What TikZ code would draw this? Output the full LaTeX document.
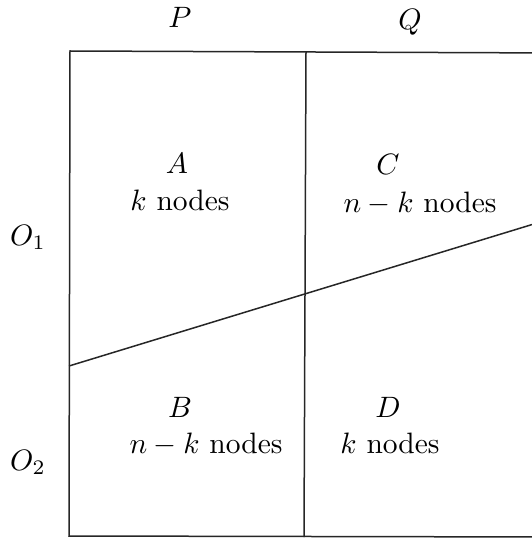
\documentclass[tikz,border=0pt]{standalone}
\usepackage{graphicx}
\newcommand{\bigtxt}[1]{\scalebox{2.95}{#1}}
\begin{document}
\begin{tikzpicture}[x=1pt,y=-1pt,
  lbl/.style={anchor=base,inner sep=0pt},
  edge/.style={line width=1.5pt,black!85}]
\useasboundingbox (0,0) rectangle (531,540);
\coordinate (tl) at (70,51);
\coordinate (bl) at (69,536);
\coordinate (tr) at (560,53);
\coordinate (br) at (560,537);
\coordinate (mt) at (306,52);
\coordinate (mb) at (304,537);
\coordinate (dl) at (69,366);
\coordinate (dr) at (560,216);
\draw[edge] (tr) -- (tl) -- (bl) -- (br);
\draw[edge] (mt) -- (mb);
\draw[edge] (dl) -- (dr);
\node[lbl] (p) at (180,28) {\bigtxt{$P$}};
\node[lbl] (q) at (410,30) {\bigtxt{$Q$}};
\node[lbl] (o1) at (28,245) {\bigtxt{$O_1$}};
\node[lbl] (o2) at (28,470) {\bigtxt{$O_2$}};
\node[lbl] (a) at (177,173) {\bigtxt{$A$}};
\node[lbl] (ak) at (180,210) {\bigtxt{$k$ nodes}};
\node[lbl] (c) at (388,175) {\bigtxt{$C$}};
\node[lbl] (ck) at (420,212) {\bigtxt{$n-k$ nodes}};
\node[lbl] (b) at (180,417) {\bigtxt{$B$}};
\node[lbl] (bk) at (206,453) {\bigtxt{$n-k$ nodes}};
\node[lbl] (d) at (388,417) {\bigtxt{$D$}};
\node[lbl] (dk) at (390,453) {\bigtxt{$k$ nodes}};
\end{tikzpicture}
\end{document}
